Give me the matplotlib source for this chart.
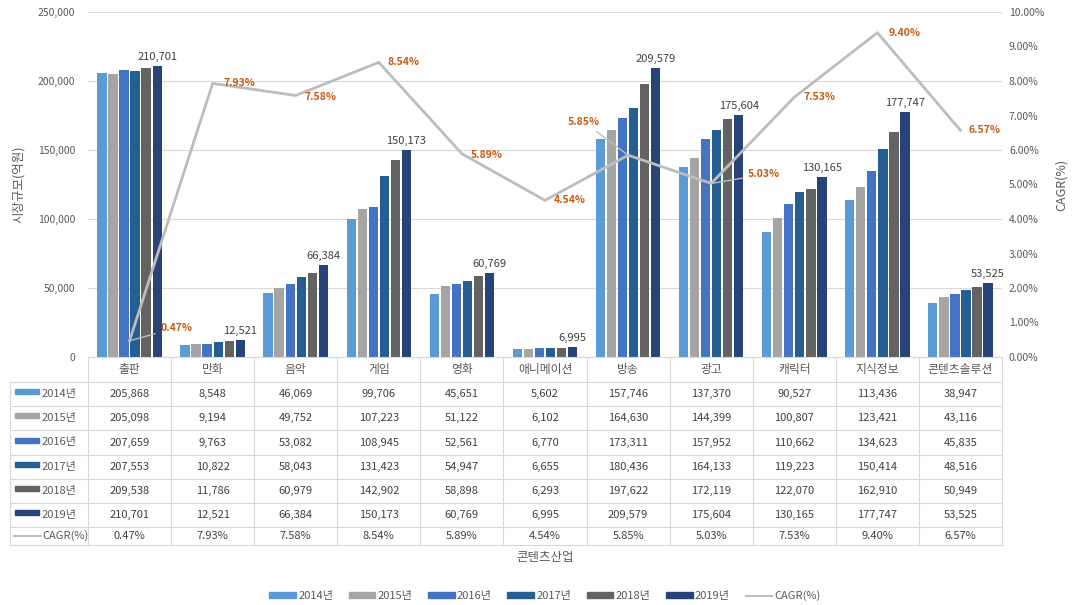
import matplotlib
matplotlib.use("Agg")
import matplotlib.pyplot as plt
from matplotlib.patches import Patch, Rectangle
from matplotlib.lines import Line2D
from matplotlib.ticker import FuncFormatter, MultipleLocator
import numpy as np

plt.rcParams['font.family'] = ['Noto Sans CJK KR', 'DejaVu Sans']

categories = ['출판', '만화', '음악', '게임', '영화', '애니메이션', '방송', '광고',
              '캐릭터', '지식정보', '콘텐츠솔루션']
years = ['2014년', '2015년', '2016년', '2017년', '2018년', '2019년']
y2014 = [205868, 8548, 46069, 99706, 45651, 5602, 157746, 137370, 90527, 113436, 38947]
y2015 = [205098, 9194, 49752, 107223, 51122, 6102, 164630, 144399, 100807, 123421, 43116]
y2016 = [207659, 9763, 53082, 108945, 52561, 6770, 173311, 157952, 110662, 134623, 45835]
y2017 = [207553, 10822, 58043, 131423, 54947, 6655, 180436, 164133, 119223, 150414, 48516]
y2018 = [209538, 11786, 60979, 142902, 58898, 6293, 197622, 172119, 122070, 162910, 50949]
y2019 = [210701, 12521, 66384, 150173, 60769, 6995, 209579, 175604, 130165, 177747, 53525]
cagr = [0.47, 7.93, 7.58, 8.54, 5.89, 4.54, 5.85, 5.03, 7.53, 9.40, 6.57]

series = [y2014, y2015, y2016, y2017, y2018, y2019]
colors = ['#5B9BD5', '#A5A5A5', '#4472C4', '#255E91', '#636363', '#264478']
line_color = '#BDBDBD'
label_orange = '#C55A11'
text_gray = '#595959'
grid_gray = '#D9D9D9'

W, H = 1075, 605
fig = plt.figure(figsize=(W / 100, H / 100), dpi=100)

# plot area in pixel geometry
px_left, px_right, px_top, px_axis, px_tab_bottom = 88, 1002, 12, 357, 545
ax = fig.add_axes([px_left / W, 1 - px_axis / H, (px_right - px_left) / W,
                   (px_axis - px_top) / H])
n = len(categories)
x = np.arange(n)
pitch, bw = 0.133, 0.112

for i, (vals, c, yl) in enumerate(zip(series, colors, years)):
    ax.bar(x + (i - 2.5) * pitch, vals, width=bw, color=c, zorder=2, label=yl)

# value labels above the latest year's bar
for xi, v in zip(x, y2019):
    ax.annotate(f'{v:,}', (xi + 2.5 * pitch, v), xytext=(0, 4), textcoords='offset pixels',
                ha='center', va='bottom', fontsize=8, color='#404040')

ax.set_xlim(-0.5, n - 0.5)
ax.set_ylim(0, 250000)
ax.yaxis.set_major_locator(MultipleLocator(50000))
ax.yaxis.set_major_formatter(FuncFormatter(lambda v, p: f'{int(v):,}'))
ax.grid(axis='y', color=grid_gray, lw=0.8, zorder=0)
ax.set_axisbelow(True)
ax.set_xticks([])
for s in ['top', 'right', 'left']:
    ax.spines[s].set_visible(False)
ax.spines['bottom'].set_color(grid_gray)
ax.tick_params(axis='y', length=0, pad=9, labelsize=7.5, labelcolor=text_gray)
ax.set_ylabel('시장규모(억원)', fontsize=9, color=text_gray)
ax.yaxis.set_label_coords((25 - px_left) / (px_right - px_left), 0.5)

# CAGR on secondary axis
ax2 = ax.twinx()
ax2.set_ylim(0, 10)
ax2.yaxis.set_major_locator(MultipleLocator(1))
ax2.yaxis.set_major_formatter(FuncFormatter(lambda v, p: f'{v:.2f}%'))
ax2.tick_params(axis='y', length=0, pad=5, labelsize=7.5, labelcolor=text_gray)
for s in ['top', 'right', 'left', 'bottom']:
    ax2.spines[s].set_visible(False)
ax2.plot(x, cagr, color=line_color, lw=2, zorder=3)
ax2.set_ylabel('CAGR(%)', fontsize=9, color=text_gray, rotation=90)
ax2.yaxis.set_label_coords((1055 - px_left) / (px_right - px_left), 0.5)

# CAGR data labels (pixel offsets from each point; leader lines where displaced)
offsets = [(47, 13), (27, 0), (25, -2), (25, 0), (25, -1), (25, 0),
           (-44, 33), (53, 9), (25, 0), (27, 0), (24, 0)]
leaders = {0, 6, 7}
for i, (xi, v) in enumerate(zip(x, cagr)):
    dx, dy = offsets[i]
    kw = {}
    if i in leaders:
        kw['arrowprops'] = dict(arrowstyle='-', color=line_color, lw=1,
                                shrinkA=2, shrinkB=0)
    ax2.annotate(f'{v:.2f}%', (xi, v), xytext=(dx, dy), textcoords='offset pixels',
                 ha='center', va='center', fontsize=7.5, fontweight='bold',
                 color=label_orange, **kw)

# data table below the plot
tax = fig.add_axes([px_left / W, 1 - px_tab_bottom / H, (px_right - px_left) / W,
                    (px_tab_bottom - px_axis) / H])
tax.set_xlim(-0.5, n - 0.5)
tax.set_ylim(px_tab_bottom, px_axis)
tax.axis('off')
cw = (px_right - px_left) / n
lab_left = -0.5 - (px_left - 10) / cw
row_edges = [382, 406.2, 430.4, 454.6, 478.8, 503, 527, 545]

for k in range(n + 1):
    tax.plot([k - 0.5, k - 0.5], [px_axis, px_tab_bottom], color=grid_gray, lw=0.8,
             clip_on=False)
tax.plot([lab_left, lab_left], [row_edges[0], px_tab_bottom], color=grid_gray, lw=0.8,
         clip_on=False)
for yy in row_edges:
    tax.plot([lab_left, n - 0.5], [yy, yy], color=grid_gray, lw=0.8, clip_on=False)

for xi, name in zip(x, categories):
    tax.text(xi, (px_axis + row_edges[0]) / 2, name, ha='center', va='center',
             fontsize=8.5, color=text_gray)

key_w = 24 / cw
for r in range(7):
    yc = (row_edges[r] + row_edges[r + 1]) / 2
    if r < 6:
        vals = series[r]
        tax.add_patch(Rectangle((lab_left + 5 / cw, yc - 5), key_w, 5, color=colors[r],
                                clip_on=False))
        tax.text(lab_left + 32 / cw, yc, years[r], ha='left', va='center',
                 fontsize=8, color=text_gray, clip_on=False)
        for xi, v in zip(x, vals):
            tax.text(xi, yc, f'{v:,}', ha='center', va='center', fontsize=8,
                     color='#404040')
    else:
        tax.plot([lab_left + 4 / cw, lab_left + 31 / cw], [yc, yc], color=line_color,
                 lw=1.5, clip_on=False)
        tax.text(lab_left + 32 / cw, yc, 'CAGR(%)', ha='left', va='center',
                 fontsize=8, color=text_gray, clip_on=False)
        for xi, v in zip(x, cagr):
            tax.text(xi, yc, f'{v:.2f}%', ha='center', va='center', fontsize=8,
                     color='#404040')

fig.text((px_left + px_right) / 2 / W, 1 - 557 / H, '콘텐츠산업', ha='center',
         va='center', fontsize=9, color=text_gray)

handles = [Patch(color=c) for c in colors] + [Line2D([], [], color=line_color, lw=1.5)]
fig.legend(handles, years + ['CAGR(%)'], loc='center', ncol=7,
           bbox_to_anchor=((px_left + px_right) / 2 / W, 1 - 596 / H), frameon=False,
           fontsize=8, handlelength=2.4, handleheight=0.45, handletextpad=0.2,
           columnspacing=1.4, labelcolor=text_gray)

fig.savefig('out.png', dpi=100, facecolor='white')
